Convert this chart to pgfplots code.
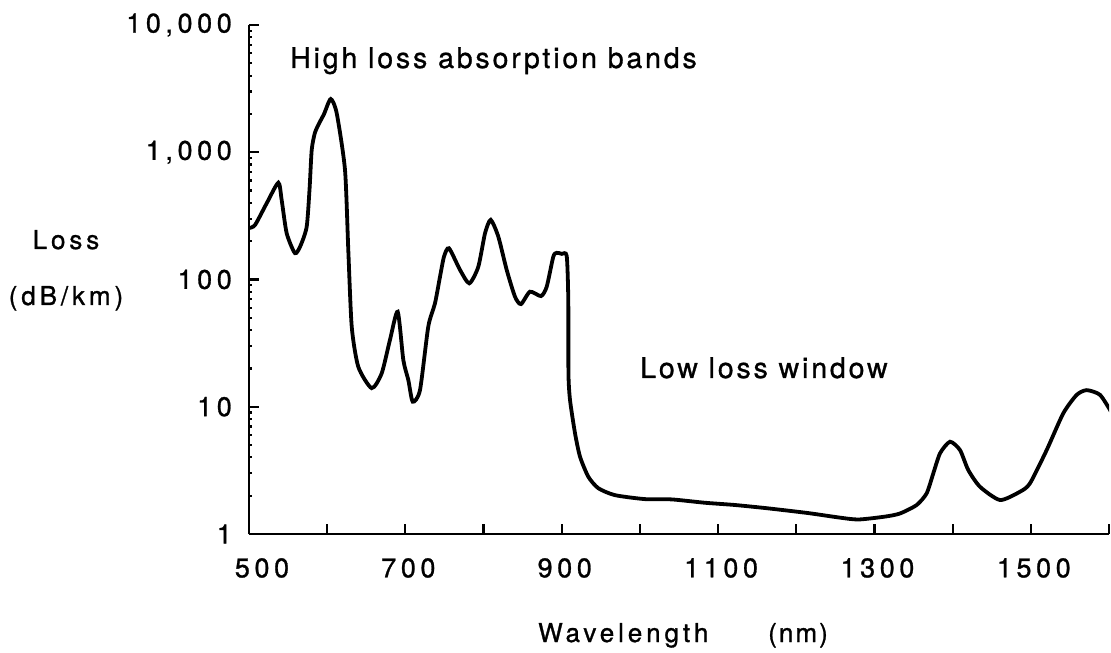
\documentclass[border=0pt]{standalone}
\usepackage{pgfplots}
\pgfplotsset{compat=1.18}
\usepackage{fontspec}
\setmainfont{TeX Gyre Heros}
\newfontfamily\tickfont[LetterSpace=17, FakeBold=1]{TeX Gyre Heros}
\newfontfamily\annfont[LetterSpace=10, FakeBold=1]{TeX Gyre Heros}
\newfontfamily\labfont[LetterSpace=15, FakeBold=1]{TeX Gyre Heros}
\newfontfamily\nmfont[LetterSpace=8, FakeBold=1]{TeX Gyre Heros}
\pgfplotstableread{
x y
500 254
507.7 268
522.6 397
537.5 576
541.8 421
548.2 231
558.8 161
566.0 185
573.8 260
577.5 520
580.2 1042
584.0 1400
588.6 1638
596.0 2000
604.5 2620
612.2 2024
622.8 726
627.0 171
631.4 42.6
639.8 20.6
656.9 14.0
669.7 18.3
680.3 33.5
690.2 55.8
697.4 23.3
703.8 16.2
709.4 10.96
718.7 13.5
729.3 42.6
737.9 65
744.3 105
749.4 151
755.8 176
769.9 119
781.8 93.3
793.3 126
801.9 231
809.2 294
818.9 217
829.6 119
840.2 73.3
847.9 64.1
859.4 80.2
873.5 74.1
880.8 87.8
889.2 151
893.6 162
900.0 159
906.4 153
908.4 69
908.6 18.3
910.6 11.3
917.0 6.19
923.4 4.05
934.0 2.82
946.8 2.29
968.1 2.02
1006.5 1.88
1040.7 1.87
1083.3 1.76
1121.6 1.69
1164.2 1.59
1215.4 1.46
1253.8 1.35
1279.3 1.30
1313.5 1.37
1332.7 1.45
1354.0 1.69
1366.8 2.09
1375.3 3.0
1383.9 4.31
1396.6 5.31
1409.4 4.57
1420.0 3.18
1435.0 2.35
1460.6 1.85
1486.2 2.15
1498.9 2.50
1520.3 4.57
1541.5 8.88
1558.7 12.4
1571.5 13.5
1588.5 12.4
1602.6 9.15
}\losstable
\begin{document}
\begin{tikzpicture}
\begin{axis}[
  scale only axis,
  width=860bp, height=509bp,
  at={(0,0)}, anchor=south west,
  ymode=log,
  xmin=500, xmax=1600,
  ymin=1, ymax=10000,
  axis lines=left,
  axis line style={-, line width=2.6bp},
  every tick/.style={black, line width=2.2bp},
  tick align=inside,
  major tick length=10bp,
  minor tick num=0,
  xtick={500,600,...,1600},
  xticklabels={\hspace*{20bp}500,,700,,900,,1100,,1300,,1500,},
  ytick={1,10,100,1000,10000},
  yticklabels={1,10,100,{1,000},{10,000}},
  ticklabel style={font=\tickfont\fontsize{27bp}{31bp}\selectfont},
  xticklabel style={inner sep=0pt, anchor=north, yshift=-24bp, xshift=3bp},
  yticklabel style={inner sep=0pt, anchor=east, xshift=-17bp},
]
\addplot[black, line width=3.8bp, smooth, tension=0.4] table[x=x, y=y] {\losstable};
\end{axis}
\node[anchor=base west, inner sep=0pt, font=\annfont\fontsize{28.5bp}{33bp}\selectfont] at (41bp,466bp) {High loss absorption bands};
\node[anchor=base west, inner sep=0pt, font=\annfont\fontsize{28.5bp}{33bp}\selectfont] at (391bp,156bp) {Low loss window};
\node[anchor=base, inner sep=0pt, font=\labfont\fontsize{26bp}{30bp}\selectfont] at (-183bp,285bp) {Loss};
\node[anchor=base, inner sep=0pt, font=\labfont\fontsize{26bp}{30bp}\selectfont] at (-183bp,229bp) {(dB/km)};
\node[anchor=base west, inner sep=0pt, font=\labfont\fontsize{26bp}{30bp}\selectfont] at (289bp,-108bp) {Wavelength};
\node[anchor=base west, inner sep=0pt, font=\nmfont\fontsize{26bp}{30bp}\selectfont] at (519bp,-108bp) {(nm)};
\pgfresetboundingbox
\path[use as bounding box] (-249bp,-119bp) rectangle (862bp,534bp);
\end{tikzpicture}
\end{document}
